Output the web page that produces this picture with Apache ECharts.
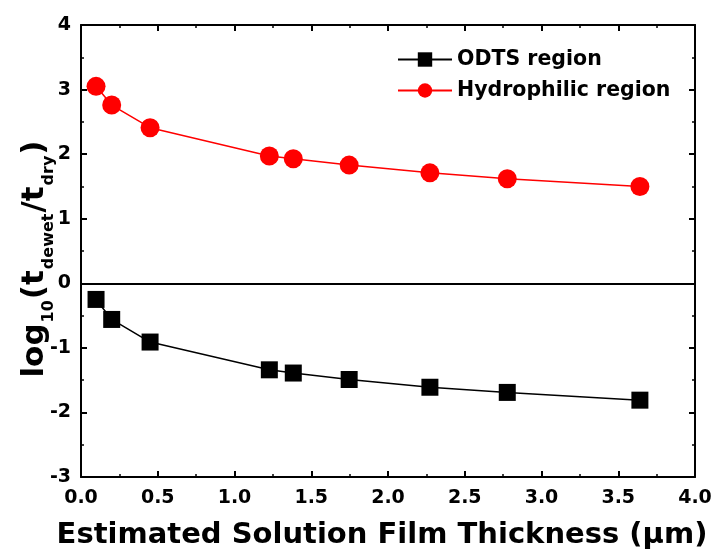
<!DOCTYPE html>
<html>
<head>
<meta charset="utf-8">
<script src="https://cdn.jsdelivr.net/npm/echarts@6/dist/echarts.min.js"></script>
<style>html,body{margin:0;padding:0;background:#fff;}#c{width:715px;height:550px;}</style>
</head>
<body>
<div id="c"></div>
<script>
const thickness = [0.098, 0.20, 0.45, 1.227, 1.383, 1.747, 2.273, 2.777, 3.641];
const hydrophilic = [3.05, 2.76, 2.41, 1.97, 1.93, 1.83, 1.71, 1.62, 1.50];
const odts = [-0.25, -0.56, -0.91, -1.34, -1.39, -1.49, -1.61, -1.69, -1.81];
const seriesNames = ['ODTS region', 'Hydrophilic region'];
const xTitle = 'Estimated Solution Film Thickness (\u03bcm)';

const font = 'DejaVu Sans, Liberation Sans, sans-serif';
const chart = echarts.init(document.getElementById('c'));
const pairs = (xs, ys) => xs.map((x, i) => [x, ys[i]]);
const axisCommon = {
  axisLine: { show: true, onZero: false, lineStyle: { color: '#000', width: 2 } },
  axisTick: { show: true, inside: true, length: 6, lineStyle: { color: '#000', width: 2 } },
  minorTick: { show: true, splitNumber: 2, length: 3, lineStyle: { color: '#000', width: 1.5 } },
  splitLine: { show: false },
  minorSplitLine: { show: false }
};
chart.setOption({
  animation: false,
  backgroundColor: '#fff',
  grid: { left: 81, right: 20, top: 25, bottom: 73, containLabel: false, outerBoundsMode: 'none' },
  legend: {
    data: seriesNames,
    orient: 'vertical',
    left: 392, top: 44,
    itemWidth: 54, itemHeight: 18, itemGap: 10,
    textStyle: { fontFamily: font, fontWeight: 'bold', fontSize: 20.5, color: '#000' }
  },
  xAxis: [
    Object.assign({}, axisCommon, {
      type: 'value', min: 0, max: 4, interval: 0.5, position: 'bottom',
      axisLabel: { fontFamily: font, fontWeight: 'bold', fontSize: 19, color: '#000', margin: 12,
        formatter: v => v.toFixed(1) },
      name: xTitle, nameLocation: 'middle', nameGap: 44,
      nameTextStyle: { fontFamily: font, fontWeight: 'bold', fontSize: 29, color: '#000', padding: [0, 12, 0, 0] }
    }),
    Object.assign({}, axisCommon, {
      type: 'value', min: 0, max: 4, interval: 0.5, position: 'top',
      axisLabel: { show: false }
    })
  ],
  yAxis: [
    Object.assign({}, axisCommon, {
      type: 'value', min: -3, max: 4, interval: 1, position: 'left',
      axisLabel: { fontFamily: font, fontWeight: 'bold', fontSize: 19, color: '#000', margin: 10 },
      name: '{a|log}{s|10}{a|(t}{s|dewet}{a|/t}{s|dry}{a|)}',
      nameLocation: 'middle', nameRotate: 90, nameGap: 31, nameMoveOverlap: false,
      nameTextStyle: {
        padding: [0, 16, 0, 0],
        rich: {
          a: { fontFamily: font, fontWeight: 'bold', fontSize: 31, color: '#000', lineHeight: 38, verticalAlign: 'bottom' },
          s: { fontFamily: font, fontWeight: 'bold', fontSize: 16, color: '#000', lineHeight: 38, verticalAlign: 'bottom', padding: [0, 1, -7, 1] }
        }
      }
    }),
    Object.assign({}, axisCommon, {
      type: 'value', min: -3, max: 4, interval: 1, position: 'right',
      axisLabel: { show: false }
    })
  ],
  series: [
    {
      name: seriesNames[0], type: 'line', data: pairs(thickness, odts),
      symbol: 'rect', symbolSize: 17,
      itemStyle: { color: '#000' }, lineStyle: { color: '#000', width: 1.5 },
      markLine: {
        silent: true, symbol: 'none', label: { show: false },
        lineStyle: { color: '#000', width: 2, type: 'solid' },
        data: [{ yAxis: 0 }]
      }
    },
    {
      name: seriesNames[1], type: 'line', data: pairs(thickness, hydrophilic),
      symbol: 'circle', symbolSize: 19,
      itemStyle: { color: '#ff0000' }, lineStyle: { color: '#ff0000', width: 1.5 }
    }
  ]
});
</script>
</body>
</html>
